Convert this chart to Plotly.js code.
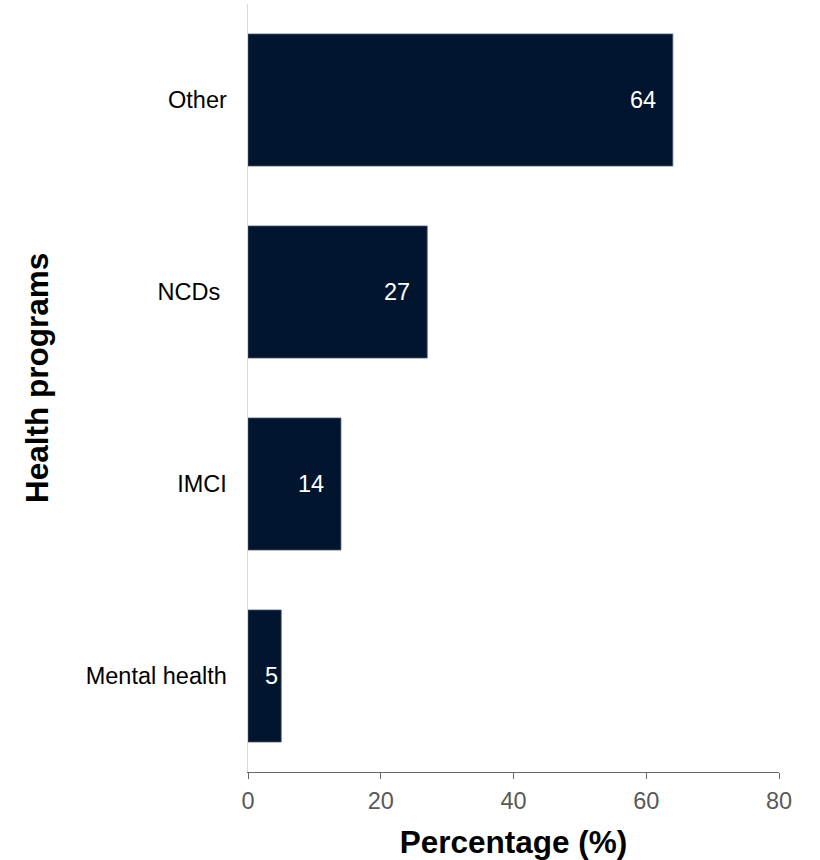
<!DOCTYPE html>
<html>
<head>
<meta charset="utf-8">
<script src="https://cdn.plot.ly/plotly-3.0.1.min.js"></script>
<style>
  html, body { margin: 0; padding: 0; background: #ffffff; }
  #chart { width: 820px; height: 860px; }
</style>
</head>
<body>
<div id="chart"></div>
<script>
// Share of health programs (bottom to top)
const programs = ['Mental health', 'IMCI', 'NCDs ', 'Other'];
const percentages = [5, 14, 27, 64];
const xTicks = [0, 20, 40, 60, 80];

const FONT = 'Liberation Sans, Arial, sans-serif';
const BAR_COLOR = '#02152e';

// keep trailing spaces visible in SVG tick labels
const tickText = programs.map(p => p.replace(/ +$/, s => '\u00a0'.repeat(s.length)));

const trace = {
  type: 'bar',
  orientation: 'h',
  x: percentages,
  y: programs,
  marker: { color: BAR_COLOR, line: { color: '#4a5a70', width: 0.8 } },
  hoverinfo: 'x+y'
};

// value labels drawn just inside the end of each bar
const pxPerUnit = 531 / 80;
const valueLabels = programs.map((p, i) => ({
  x: percentages[i],
  y: p,
  xref: 'x',
  yref: 'y',
  text: String(percentages[i]),
  showarrow: false,
  xanchor: 'right',
  yanchor: 'middle',
  xshift: percentages[i] * pxPerUnit < 50 ? -1 : -15,
  font: { family: FONT, size: 23.5, color: '#ffffff' }
}));

// vertical axis title, placed left of the category labels
const yTitle = {
  text: '<b>Health programs</b>',
  xref: 'paper',
  yref: 'paper',
  x: 0,
  y: 0.5,
  xanchor: 'center',
  yanchor: 'middle',
  xshift: -211,
  yshift: 10,
  textangle: -90,
  showarrow: false,
  font: { family: FONT, size: 31.5, color: '#000000' }
};

const layout = {
  width: 820,
  height: 860,
  margin: { l: 248, r: 41, t: 4, b: 88 },
  paper_bgcolor: '#ffffff',
  plot_bgcolor: '#ffffff',
  showlegend: false,
  bargap: 0.3125,
  font: { family: FONT, size: 23.5, color: '#000000' },
  xaxis: {
    range: [0, 80],
    tickvals: xTicks,
    ticktext: xTicks.map(String),
    showgrid: false,
    zeroline: false,
    showline: true,
    linecolor: '#666666',
    linewidth: 1,
    ticks: 'outside',
    ticklen: 6,
    tickcolor: '#666666',
    ticklabelstandoff: 2,
    tickfont: { family: FONT, size: 23.5, color: '#595959' },
    title: {
      text: '<b>Percentage (%)</b>',
      font: { family: FONT, size: 31.5, color: '#000000' },
      standoff: 17
    }
  },
  yaxis: {
    type: 'category',
    categoryorder: 'array',
    categoryarray: programs,
    tickvals: programs,
    ticktext: tickText,
    showgrid: false,
    zeroline: false,
    showline: true,
    linecolor: '#d9d9d9',
    linewidth: 1.5,
    ticks: '',
    ticklabelstandoff: 15,
    tickfont: { family: FONT, size: 23.5, color: '#000000' }
  },
  annotations: valueLabels.concat([yTitle])
};

Plotly.newPlot('chart', [trace], layout, { displayModeBar: false, staticPlot: true });
</script>
</body>
</html>
